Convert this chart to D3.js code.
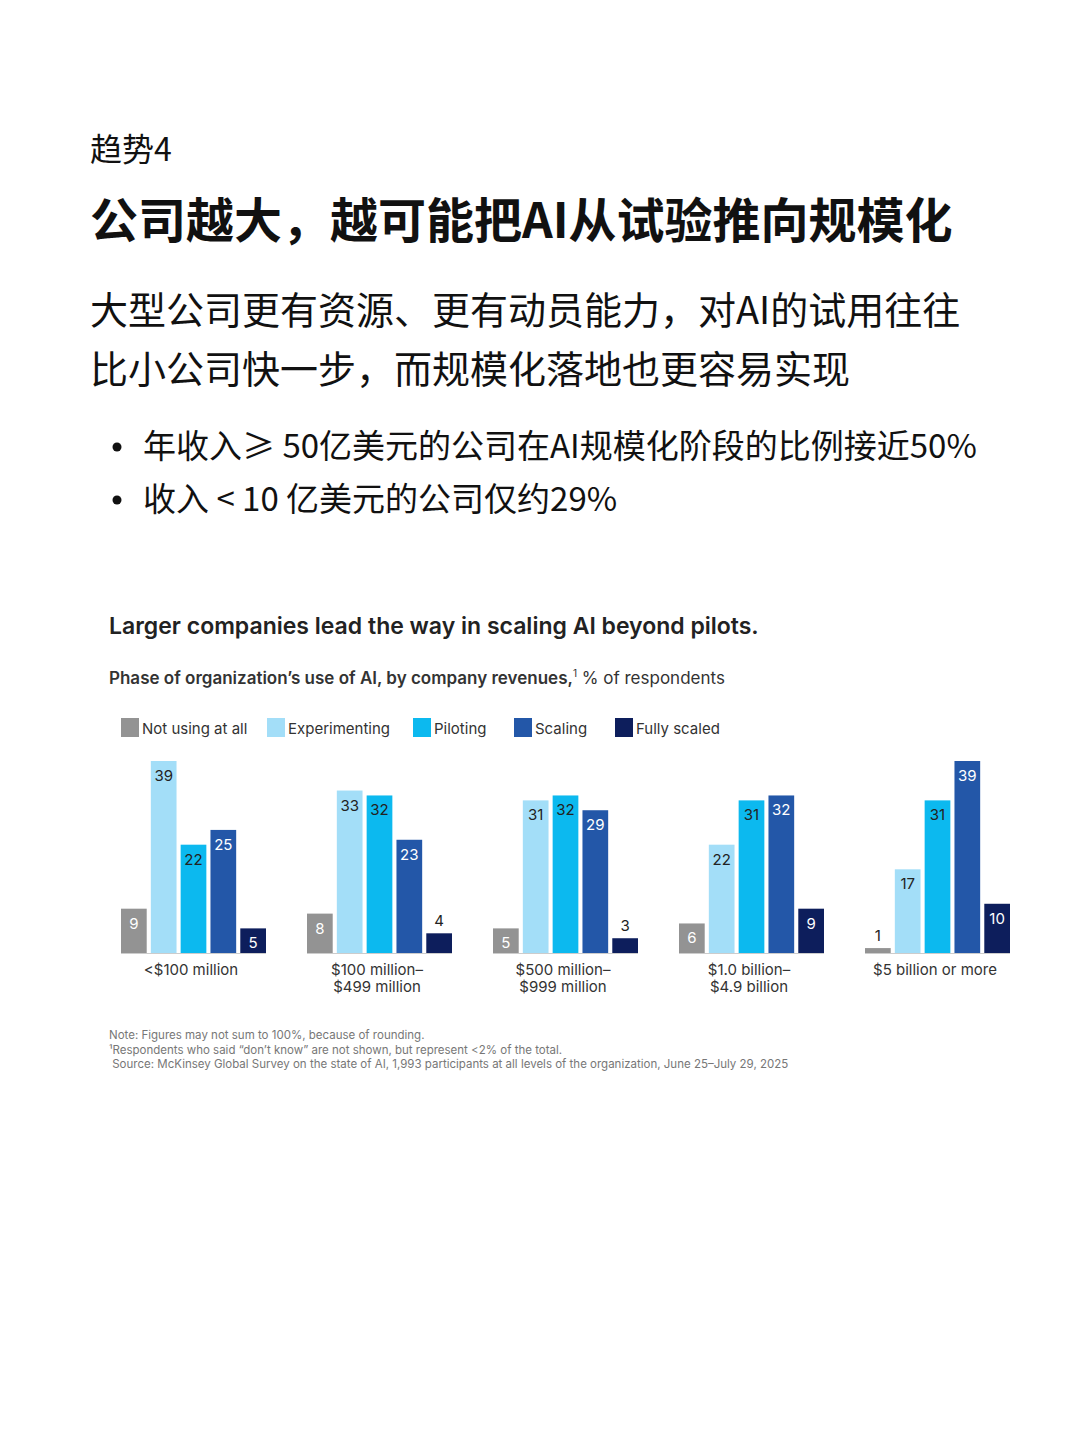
<!DOCTYPE html><html><head><meta charset="utf-8"><script src="https://cdn.jsdelivr.net/npm/d3@7"></script>
<style>body{margin:0;background:#fff}svg{display:block}</style></head><body><svg id="c" width="1080" height="1441"></svg><script>
const categories=[["<$100 million"],["$100 million–","$499 million"],["$500 million–","$999 million"],["$1.0 billion–","$4.9 billion"],["$5 billion or more"]];
const seriesNames=["Not using at all","Experimenting","Piloting","Scaling","Fully scaled"];
const colors=["#939393","#a3def8","#0cb9ef","#2357a8","#0d1e5c"];
const labelColors=["#fff","#222","#222","#fff","#fff"];
const notUsing=[9,8,5,6,1];
const experimenting=[39,33,31,22,17];
const piloting=[22,32,32,31,31];
const scaling=[25,23,29,32,39];
const fullyScaled=[5,4,3,9,10];
const series=[notUsing,experimenting,piloting,scaling,fullyScaled];
const svg=d3.select("#c");
const CJK="'Noto Sans CJK SC','Noto Sans',sans-serif";
const LAT="Inter,'Noto Sans',sans-serif";
function t(x,y,s,size,opt={}){return svg.append("text").attr("x",x).attr("y",y).text(s).attr("font-size",size).attr("font-family",opt.f||CJK).attr("font-weight",opt.w||400).attr("fill",opt.c||"#111");}
t(90,161,"趋势4",32);
t(90,238,"公司越大，越可能把AI从试验推向规模化",48,{w:700});
t(90,324,"大型公司更有资源、更有动员能力，对AI的试用往往",38);
t(90,383,"比小公司快一步，而规模化落地也更容易实现",38);
[["年收入≥ 50亿美元的公司在AI规模化阶段的比例接近50%",458],["收入 < 10 亿美元的公司仅约29%",511]].forEach(([s,y])=>{
 svg.append("circle").attr("cx",117).attr("cy",y-11).attr("r",4.5).attr("fill","#111");
 t(143,y,s,33);});
t(109,634,"Larger companies lead the way in scaling AI beyond pilots.",23,{f:LAT,w:600,c:"#222"});
const sub=t(109,684,"",17,{f:LAT,c:"#333"});
sub.append("tspan").attr("font-weight",600).text("Phase of organization’s use of AI, by company revenues,");
sub.append("tspan").attr("font-size",10).attr("dy",-7).text("1");
sub.append("tspan").attr("dy",7).text(" % of respondents");
// legend
const legX=[121,267,413,514,615];
seriesNames.forEach((n,i)=>{svg.append("rect").attr("x",legX[i]).attr("y",718).attr("width",18).attr("height",19).attr("fill",colors[i]);
 t(legX[i]+21,734,n,15,{f:LAT,c:"#333"});});
// chart
const base=953;
const y=d3.scaleLinear().domain([0,39]).range([base,761]);
const gx=d3.scaleBand().domain(d3.range(5)).range([121,121+186*5]).paddingInner(0);
const bx=d3.scaleBand().domain(d3.range(5)).range([0,145]).paddingInner(4/29).paddingOuter(0);
categories.forEach((cat,g)=>{
 const G=svg.append("g").attr("transform",`translate(${gx(g)},0)`);
 G.append("line").attr("x1",0).attr("x2",bx.range()[1]-4+4).attr("y1",base+0.5).attr("y2",base+0.5).attr("stroke","#ccc");
 series.forEach((s,i)=>{
  const v=s[g],x=bx(i),w=bx.bandwidth();
  G.append("rect").attr("x",x).attr("y",y(v)).attr("width",w).attr("height",base-y(v)).attr("fill",colors[i]);
  const inside=v>=5;
  G.append("text").attr("x",x+w/2).attr("y",inside?y(v)+20:y(v)-7).attr("text-anchor","middle").attr("font-size",15).attr("font-family",LAT)
   .attr("fill",inside?labelColors[i]:"#222").text(v);
 });
 cat.forEach((l,k)=>G.append("text").attr("x",70).attr("y",975+k*17).attr("text-anchor","middle").attr("font-size",15).attr("font-family",LAT).attr("fill","#333").text(l));
});
const notes=["Note: Figures may not sum to 100%, because of rounding.","¹Respondents who said “don’t know” are not shown, but represent <2% of the total."," Source: McKinsey Global Survey on the state of AI, 1,993 participants at all levels of the organization, June 25–July 29, 2025"];
notes.forEach((n,i)=>t(109,1039+i*14.5,n,11.5,{f:LAT,c:"#777"}).attr("xml:space","preserve"));
</script></body></html>
